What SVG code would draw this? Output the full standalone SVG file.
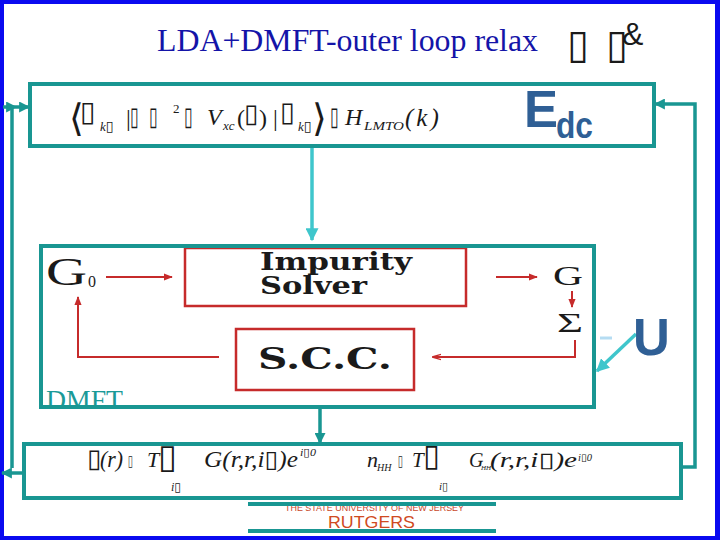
<svg xmlns="http://www.w3.org/2000/svg" width="720" height="540" viewBox="0 0 720 540">
<style>
.frame{fill:#ffffff;stroke:#0a0af0;stroke-width:8}
.teal{fill:none;stroke:#199692;stroke-width:4}
.conn{fill:none;stroke:#199692;stroke-width:3.5}
.cyan{fill:none;stroke:#3fc6cc;stroke-width:3.5}
.red{fill:none;stroke:#c62b2b;stroke-width:2}
.redbox{fill:none;stroke:#c62b2b;stroke-width:2.5}
.m{font-family:"Liberation Serif","DejaVu Serif",serif;font-style:italic;fill:#1a1a1a}
.u{font-family:"Liberation Serif","DejaVu Serif",serif;fill:#1a1a1a}
.tofu{font-family:"DejaVu Sans",sans-serif;fill:#1a1a1a}
.ti{font-family:"DejaVu Sans",sans-serif;font-style:italic;fill:#1a1a1a}
.big{font-family:"Liberation Sans",Arial,sans-serif;font-weight:bold;fill:#2f5f95}
.bold{font-family:"DejaVu Serif",serif;font-weight:bold;fill:#1a1a1a}
</style>
<defs>
<marker id="ah-teal" viewBox="0 0 10 10" refX="9" refY="5" markerWidth="11" markerHeight="11" markerUnits="userSpaceOnUse" orient="auto"><path d="M0,0 L10,5 L0,10 z" fill="#199692"/></marker>
<marker id="ah-cyan" viewBox="0 0 10 10" refX="9" refY="5" markerWidth="13" markerHeight="13" markerUnits="userSpaceOnUse" orient="auto"><path d="M0,0 L10,5 L0,10 z" fill="#3fc6cc"/></marker>
<marker id="ah-red" viewBox="0 0 10 10" refX="9" refY="5" markerWidth="9" markerHeight="9" markerUnits="userSpaceOnUse" orient="auto"><path d="M0,1 L10,5 L0,9 z" fill="#c62b2b"/></marker>
<marker id="ah-red-thin" viewBox="0 0 10 10" refX="9" refY="5" markerWidth="9" markerHeight="9" markerUnits="userSpaceOnUse" orient="auto"><path d="M0,2 L10,5 L0,8" fill="none" stroke="#c62b2b" stroke-width="1.5"/></marker>
</defs>

<rect class="frame" x="0" y="0" width="720" height="540"/>
<rect x="715" y="0" width="5" height="540" fill="#0a0af0"/>

<g id="title">
<text x="157" y="51" font-family="Liberation Serif, serif" font-size="32" fill="#1414a8" textLength="381" lengthAdjust="spacingAndGlyphs">LDA+DMFT-outer loop relax</text>
<text class="ti" x="567" y="58" font-size="40">▯</text>
<text class="ti" x="606" y="58" font-size="40">▯</text>
<text x="622" y="45" font-family="Liberation Sans, sans-serif" font-size="32" fill="#1a1a1a">&amp;</text>
</g>

<g id="connectors">
<line class="cyan" x1="312" y1="148" x2="312" y2="240" marker-end="url(#ah-cyan)"/>
<line class="conn" x1="320" y1="409" x2="320" y2="443" marker-end="url(#ah-teal)"/>
<line class="conn" x1="24" y1="473" x2="2" y2="473" marker-end="url(#ah-teal)"/>
<line class="conn" x1="12" y1="108" x2="12" y2="468"/>
<polyline class="conn" points="3,107 16,107 29,107" marker-mid="url(#ah-teal)" marker-end="url(#ah-teal)"/>
<polyline class="conn" points="682,467 695,467 695,104 655,104" marker-end="url(#ah-teal)"/>
<line class="cyan" x1="636" y1="334" x2="597" y2="371" marker-end="url(#ah-cyan)"/>
<line x1="600" y1="338" x2="612" y2="338" stroke="#b5dcf2" stroke-width="3"/>
<line class="red" x1="106" y1="277" x2="172" y2="277" marker-end="url(#ah-red)"/>
<line class="red" x1="496" y1="277" x2="537" y2="277" marker-end="url(#ah-red)"/>
<line class="red" x1="572" y1="291" x2="572" y2="307" marker-end="url(#ah-red)"/>
<polyline class="red" points="575,340 575,357 433,357" marker-end="url(#ah-red-thin)"/>
<polyline class="red" points="219,357 78,357 78,297" marker-end="url(#ah-red)"/>
</g>

<g id="lda-box">
<rect class="teal" x="30" y="84" width="624" height="62"/>
<text class="tofu" x="69" y="131" font-size="38">⟨</text>
<text class="ti" x="80" y="121" font-size="28">▯</text>
<text class="m" x="100" y="131" font-size="13">k<tspan class="ti" font-size="14">▯</tspan></text>
<text class="u" x="126" y="126" font-size="24">|</text>
<text class="tofu" transform="translate(130,125) scale(0.6,1)" font-size="26">▯</text>
<text class="tofu" transform="translate(149,125) scale(0.6,1)" font-size="26">▯</text>
<text class="u" x="173" y="113" font-size="13">2</text>
<text class="tofu" transform="translate(184,125) scale(0.6,1)" font-size="26">▯</text>
<text class="m" x="207" y="125" font-size="24">V</text>
<text class="m" x="223" y="130" font-size="13">xc</text>
<text class="u" x="237" y="126" font-size="24">(</text>
<text class="ti" x="244" y="122" font-size="26">▯</text>
<text class="u" x="259" y="126" font-size="24">)</text>
<text class="u" x="273" y="126" font-size="24">|</text>
<text class="ti" x="280" y="121" font-size="27">▯</text>
<text class="m" x="298" y="131" font-size="13">k<tspan class="ti" font-size="14">▯</tspan></text>
<text class="tofu" x="312" y="131" font-size="38">⟩</text>
<text class="tofu" transform="translate(330,125) scale(0.6,1)" font-size="26">▯</text>
<text class="m" x="345" y="125" font-size="24">H</text>
<text class="m" x="364" y="130" font-size="13" textLength="40" lengthAdjust="spacingAndGlyphs">LMTO</text>
<text class="m" x="405" y="126" font-size="25" letter-spacing="3">(k)</text>
<text class="big" x="524" y="127" font-size="51">E</text>
<text class="big" x="556" y="138" font-size="37" textLength="37" lengthAdjust="spacingAndGlyphs">dc</text>
</g>

<g id="dmft-box">
<text x="46" y="409" font-family="Liberation Serif, serif" font-size="27" fill="#1a9a98" textLength="77" lengthAdjust="spacingAndGlyphs">DMFT</text>
<rect class="teal" x="41" y="246" width="553" height="161"/>
</g>

<g id="impurity-solver">
<rect class="redbox" x="185" y="248" width="281" height="58"/>
<text class="bold" x="260" y="270" font-size="25" textLength="152" lengthAdjust="spacingAndGlyphs">Impurity</text>
<text class="bold" x="260" y="294" font-size="25" textLength="107" lengthAdjust="spacingAndGlyphs">Solver</text>
</g>
<rect x="41" y="244" width="553" height="4" fill="#199692"/>

<g id="scc">
<rect class="redbox" x="236" y="329" width="178" height="61"/>
<text class="bold" x="258" y="369" font-size="30" textLength="134" lengthAdjust="spacingAndGlyphs">S.C.C.</text>
</g>

<g id="g0">
<text class="u" x="46" y="285" font-size="40" textLength="41" lengthAdjust="spacingAndGlyphs">G</text>
<text class="u" x="88" y="287" font-size="16">0</text>
</g>
<g id="g">
<text class="u" x="553" y="285" font-size="28" textLength="30" lengthAdjust="spacingAndGlyphs">G</text>
</g>
<g id="sigma">
<text class="u" x="557" y="332" font-size="28" textLength="26" lengthAdjust="spacingAndGlyphs">Σ</text>
</g>
<g id="u">
<text class="big" x="633" y="355" font-size="51">U</text>
</g>

<g id="density-box">
<rect class="teal" x="24" y="444" width="657" height="54"/>
<text class="ti" x="87" y="467" font-size="26">▯</text>
<text class="m" x="100" y="467" font-size="23" textLength="23" lengthAdjust="spacingAndGlyphs">(r)</text>
<text class="tofu" transform="translate(128,466) scale(0.6,1)" font-size="15">▯</text>
<text class="m" x="147" y="467" font-size="22">T</text>
<text class="tofu" x="158" y="468" font-size="34" font-weight="bold">▯</text>
<text class="m" x="171" y="491" font-size="12">i<tspan class="ti" font-size="12">▯</tspan></text>
<text class="m" x="204" y="467" font-size="23" textLength="94" lengthAdjust="spacingAndGlyphs">G(r,r,i▯)e</text>
<text class="m" x="300" y="456" font-size="11" textLength="16" lengthAdjust="spacingAndGlyphs">i▯0</text>
<text class="m" x="367" y="467" font-size="22">n</text>
<text class="m" x="377" y="471" font-size="10">HH</text>
<text class="tofu" transform="translate(398,466) scale(0.6,1)" font-size="15">▯</text>
<text class="m" x="412" y="467" font-size="21">T</text>
<text class="tofu" x="423" y="466" font-size="31" font-weight="bold">▯</text>
<text class="m" x="439" y="490" font-size="11">i<tspan class="ti" font-size="11">▯</tspan></text>
<text class="m" x="469" y="467" font-size="20">G</text>
<text class="m" x="481" y="470" font-size="7">HH</text>
<text class="m" x="490" y="467" font-size="21" textLength="87" lengthAdjust="spacingAndGlyphs">(r,r,i▯)e</text>
<text class="m" x="578" y="461" font-size="10" textLength="14" lengthAdjust="spacingAndGlyphs">i▯0</text>
</g>

<g id="rutgers-logo">
<text x="285" y="511" font-family="Liberation Sans, sans-serif" font-size="9.5" fill="#c8482a" textLength="179" lengthAdjust="spacingAndGlyphs">THE STATE UNIVERSITY OF NEW JERSEY</text>
<line x1="248" y1="504" x2="496" y2="504" stroke="#199692" stroke-width="4"/>
<text x="328" y="528" font-family="Liberation Sans, sans-serif" font-size="17" fill="#d04a22" textLength="87" lengthAdjust="spacingAndGlyphs">RUTGERS</text>
<line x1="248" y1="531" x2="496" y2="531" stroke="#199692" stroke-width="4"/>
</g>
</svg>
